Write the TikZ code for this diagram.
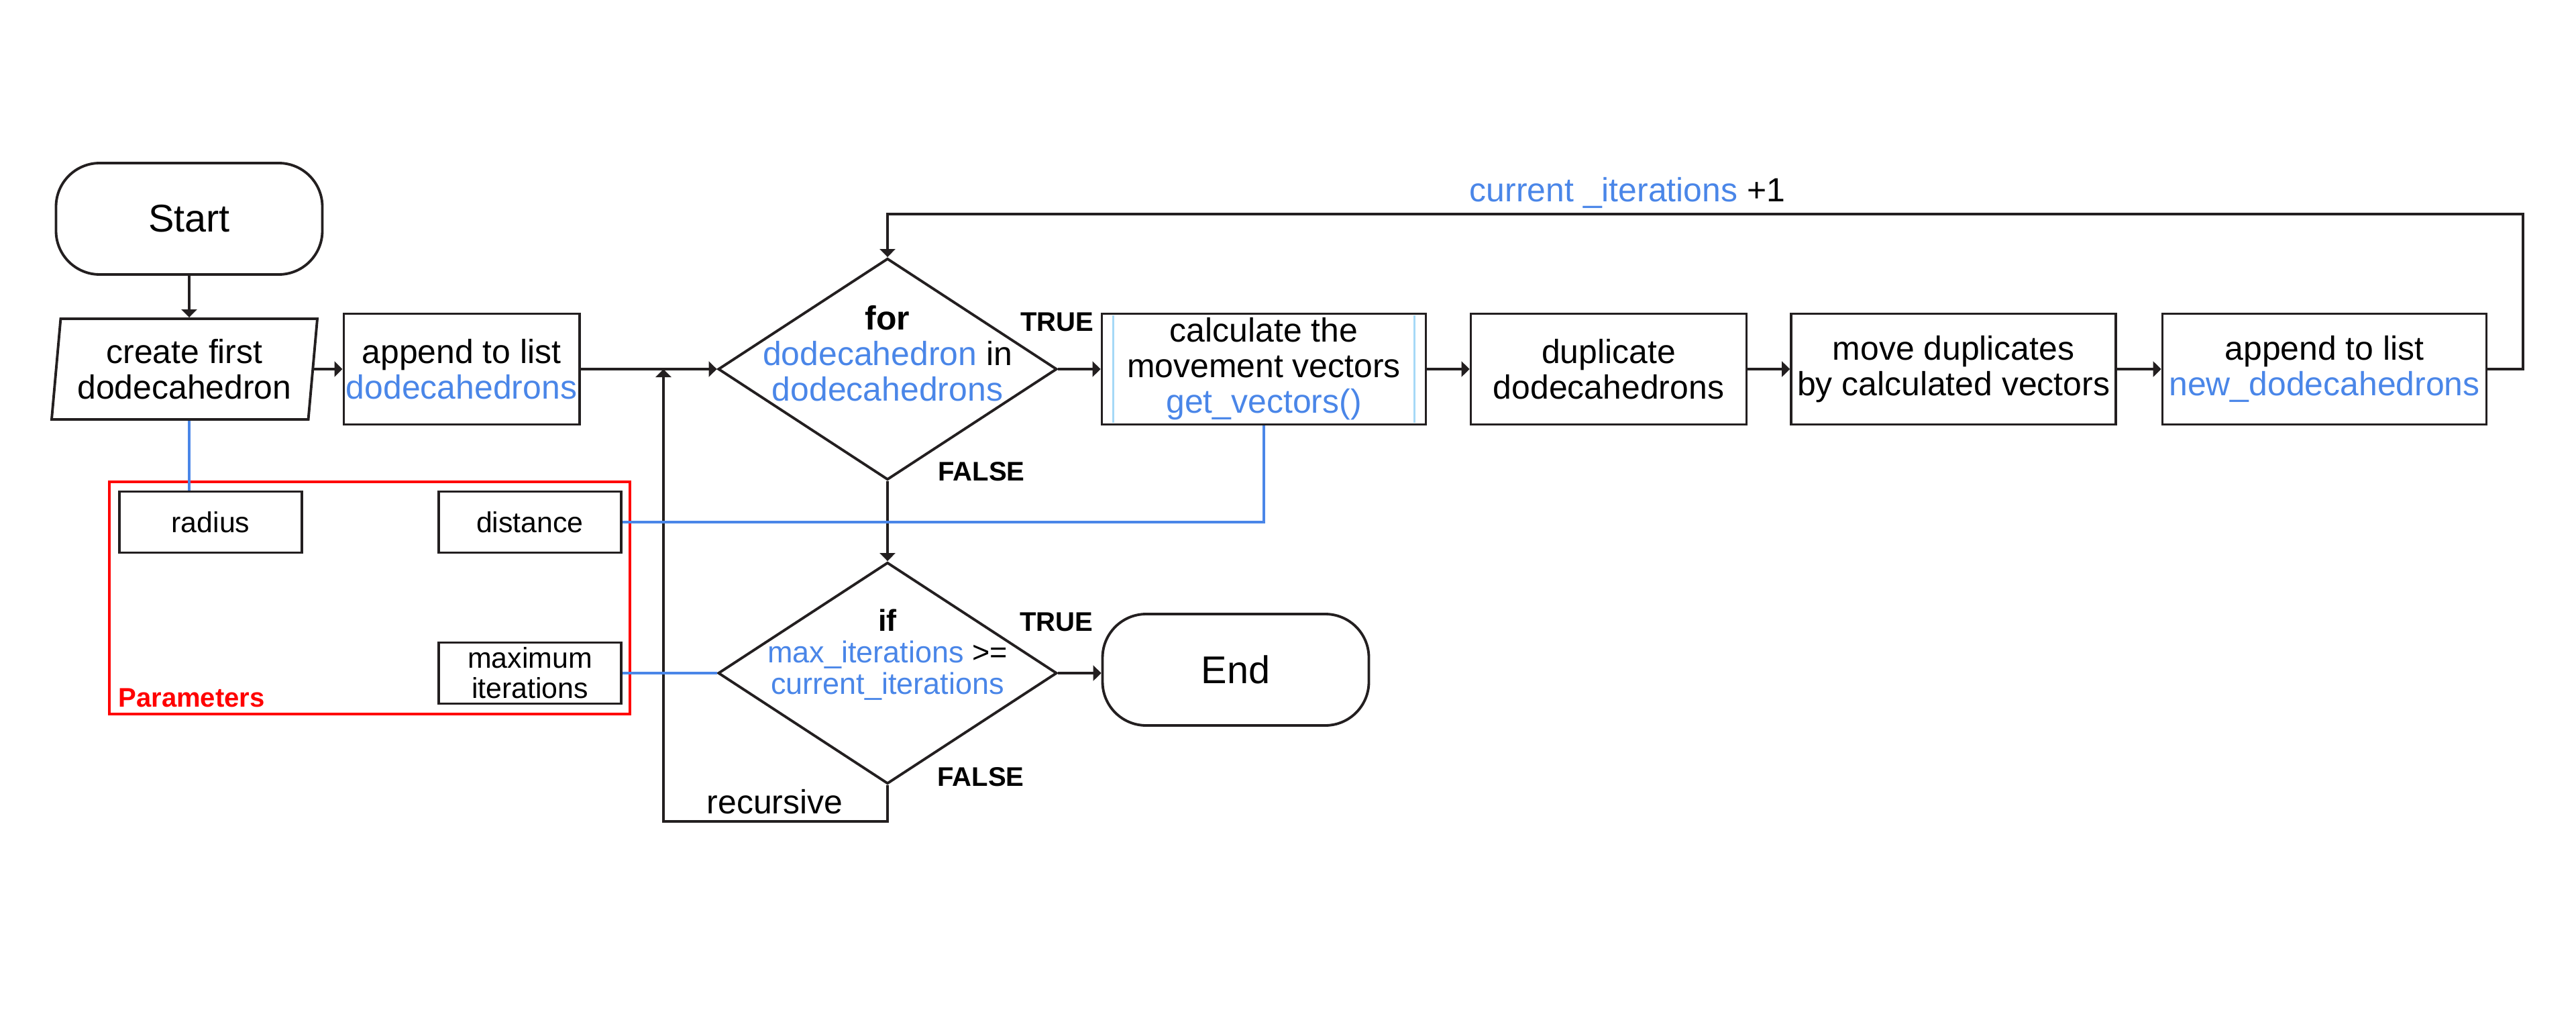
\documentclass[tikz,border=0pt]{standalone}
\usepackage{fontspec}
\setmainfont{Liberation Sans}
\usepackage{tikz}
\usetikzlibrary{arrows.meta,shapes.geometric}
\definecolor{varblue}{HTML}{4A86E8}
\definecolor{subblue}{HTML}{A6D9F7}
\definecolor{inkgray}{HTML}{231F20}
\definecolor{paramred}{HTML}{FF0000}
\newcommand{\var}[1]{\textcolor{varblue}{#1}}
\tikzstyle{terminal}=[draw=inkgray, line width=1.1pt, rectangle, rounded corners=0.65cm, minimum width=3.97cm, minimum height=1.66cm, font=\fontsize{16.4}{18}\selectfont]
\tikzstyle{process}=[draw=inkgray, line width=1.1pt, rectangle, align=center, inner sep=1pt, minimum height=1.65cm, font=\fontsize{14.2}{15.1}\selectfont]
\tikzstyle{input}=[draw=inkgray, line width=1.1pt, trapezium, trapezium left angle=83, trapezium right angle=97, trapezium stretches=true, align=center, inner sep=1pt, minimum width=3.98cm, minimum height=1.5cm, font=\fontsize{14.2}{15.1}\selectfont]
\tikzstyle{decision}=[draw=inkgray, line width=1.1pt, diamond, minimum width=5.05cm, minimum height=3.3cm, inner sep=0pt]
\tikzstyle{decision text}=[align=center, inner sep=0pt]
\tikzstyle{parameter}=[draw=inkgray, line width=1.1pt, rectangle, align=center, inner sep=1pt, minimum width=2.72cm, minimum height=0.91cm, font=\fontsize{12.2}{12.8}\selectfont]
\tikzstyle{group}=[draw=paramred, line width=1.3pt, rectangle, minimum width=7.76cm, minimum height=3.46cm]
\tikzstyle{flow}=[draw=inkgray, line width=1pt, -{Triangle[length=1.2mm,width=2.3mm]}]
\tikzstyle{param link}=[draw=varblue, line width=1.1pt]
\tikzstyle{sub line}=[draw=subblue, line width=1pt, shorten >=1.2pt, shorten <=1.2pt]
\tikzstyle{branch}=[font=\bfseries\fontsize{11.4}{12}\selectfont, inner sep=0pt]
\tikzstyle{note}=[font=\fontsize{14.2}{15.1}\selectfont, inner sep=0pt]

\begin{document}
\begin{tikzpicture}
\useasboundingbox (0,0) rectangle (38.4,-15.07);
% First the start and the input
\node[terminal] (start) at (2.82,-3.26) {Start};
\node[input] (create) at (2.75,-5.5) {create first\\dodecahedron};

% process boxes of the main row
\foreach \pos/\name/\boxw/\txt in {
	{(6.88,-5.5)/append/3.19/{append to list\\\var{dodecahedrons}}},
	{(18.84,-5.5)/calc/4.83/{calculate the\\movement vectors\\\var{get\_vectors()}}},
	{(23.98,-5.5)/duplicate/4.11/{duplicate\\dodecahedrons}},
	{(29.12,-5.5)/move/4.84/{move duplicates\\by calculated vectors}},
	{(34.65,-5.5)/newappend/4.83/{append to list\\\var{new\_dodecahedrons}}}}
\node[process, minimum width=\boxw cm] (\name) at \pos {\txt};
\path[sub line] ([xshift=0.19cm]calc.north west) -- ([xshift=0.19cm]calc.south west);
\path[sub line] ([xshift=-0.19cm]calc.north east) -- ([xshift=-0.19cm]calc.south east);

% the two decisions
\node[decision] (forloop) at (13.23,-5.5) {};
\node[decision text, font=\fontsize{14.2}{15.1}\selectfont] (fortext) at ([yshift=0.23cm]forloop.center) {\textbf{for}\\\var{dodecahedron} in\\\var{dodecahedrons}};
\node[decision] (ifcheck) at (13.23,-10.03) {};
\node[decision text, font=\fontsize{12.8}{13.4}\selectfont] (iftext) at ([yshift=0.27cm]ifcheck.center) {\textbf{if}\\\var{max\_iterations} >=\\\var{current\_iterations}};
\node[terminal] (end) at (18.42,-9.98) {End};

% parameters
\node[group] (params) at (5.51,-8.91) {};
\node[parameter] (radius) at (3.14,-7.78) {radius};
\node[parameter] (distance) at (7.90,-7.78) {distance};
\node[parameter] (maxiter) at (7.90,-10.03) {maximum\\iterations};
\node[anchor=base west, text=paramred, font=\bfseries\fontsize{11.4}{12}\selectfont, inner sep=0pt] (paramlabel) at ([xshift=0.15cm,yshift=0.13cm]params.south west) {Parameters};

% branch labels
\node[branch] (fortrue) at (15.76,-4.80) {TRUE};
\node[branch] (forfalse) at (14.63,-7.03) {FALSE};
\node[branch] (iftrue) at (15.75,-9.27) {TRUE};
\node[branch] (iffalse) at (14.62,-11.58) {FALSE};

% Connect the boxes
\path[flow] (start.south) -- (start.south |- create.north);
\foreach \source/\dest in {
	create/append,
	append/forloop,
	forloop/calc,
	calc/duplicate,
	duplicate/move,
	move/newappend}
\path[flow] (\source) -- (\dest);
\path[flow] (forloop.south) -- (ifcheck.north);
\path[flow] (ifcheck.east) -- (ifcheck.east -| end.west);

% loop back over the top
\coordinate (looptop) at (37.61,-3.19);
\path[flow] (newappend.east) -| (looptop) -| (forloop.north);
\node[note] (itercount) at (24.26,-2.87) {\var{current \_iterations} +1};

% recursive call
\coordinate (recur) at (9.89,-12.24);
\path[flow] (ifcheck.south) |- (recur) -- (recur |- append.east);
\node[note] (recurlabel) at (11.55,-11.95) {recursive};

% parameter links
\path[param link] (create.south -| start.south) -- (radius.north -| start.south);
\path[param link] (distance.east) -| (calc.south);
\path[param link] (maxiter.east) -- (ifcheck.west);
\end{tikzpicture}
\end{document}
